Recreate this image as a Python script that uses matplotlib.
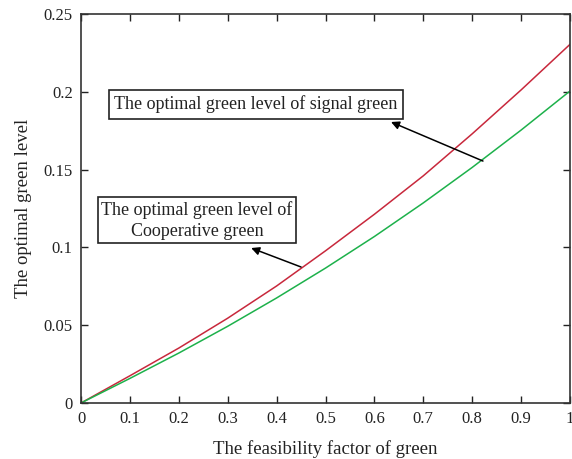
import numpy as np
import matplotlib.pyplot as plt

plt.rcParams['font.family'] = ['Liberation Serif', 'DejaVu Serif']

# feasibility factor values
x = [0, 0.1, 0.2, 0.3, 0.4, 0.5, 0.6, 0.7, 0.8, 0.9, 1.0]
# optimal green level, signal green (red) and cooperative green (green)
signal_green = [0, 0.0175, 0.0353, 0.0545, 0.0752, 0.0978, 0.1213, 0.1460, 0.1730, 0.2012, 0.2305]
coop_green = [0, 0.0158, 0.0321, 0.0493, 0.0675, 0.0867, 0.1070, 0.1286, 0.1514, 0.1754, 0.2005]

xticks = [0, 0.1, 0.2, 0.3, 0.4, 0.5, 0.6, 0.7, 0.8, 0.9, 1]
xtick_labels = ['0', '0.1', '0.2', '0.3', '0.4', '0.5', '0.6', '0.7', '0.8', '0.9', '1']
yticks = [0, 0.05, 0.1, 0.15, 0.2, 0.25]
ytick_labels = ['0', '0.05', '0.1', '0.15', '0.2', '0.25']

fig = plt.figure(figsize=(5.72, 4.59), dpi=100)
ax = fig.add_axes([81 / 572, 56 / 459, 489 / 572, 389 / 459])

ax.plot(x, signal_green, color='#c8283c', lw=1.1)
ax.plot(x, coop_green, color='#1db14b', lw=1.1)

ax.set_xlim(0, 1)
ax.set_ylim(0, 0.25)
ax.set_xticks(xticks)
ax.set_xticklabels(xtick_labels)
ax.set_yticks(yticks)
ax.set_yticklabels(ytick_labels)
ax.tick_params(direction='in', top=True, right=True, labelsize=12, length=5,
               width=1, colors='#222222', pad=6)
for s in ax.spines.values():
    s.set_linewidth(1.2)
    s.set_color('#333333')

ax.set_xlabel('The feasibility factor of green', fontsize=13.5, labelpad=9,
              color='#222222')
ax.set_ylabel('The optimal green level', fontsize=13.5, labelpad=8,
              color='#222222')

box = dict(boxstyle='square,pad=0.3', fc='white', ec='#222222', lw=1.2)
box2 = dict(boxstyle='square,pad=0.2', fc='white', ec='#222222', lw=1.2)
arrow = dict(arrowstyle='-|>', color='black', lw=1.1, mutation_scale=12,
             shrinkA=0, shrinkB=0)

ax.annotate('', xy=(0.634, 0.1806), xytext=(0.822, 0.1555), arrowprops=arrow)
ax.text(0.358, 0.192, 'The optimal green level of signal green', ha='center',
        va='center', fontsize=13, bbox=box, color='#222222')

ax.annotate('', xy=(0.348, 0.0996), xytext=(0.45, 0.0874), arrowprops=arrow)
ax.text(0.237, 0.1175, 'The optimal green level of\nCooperative green', ha='center',
        va='center', fontsize=13, bbox=box2, color='#222222', linespacing=1.3)

fig.savefig('out.png', dpi=100)
